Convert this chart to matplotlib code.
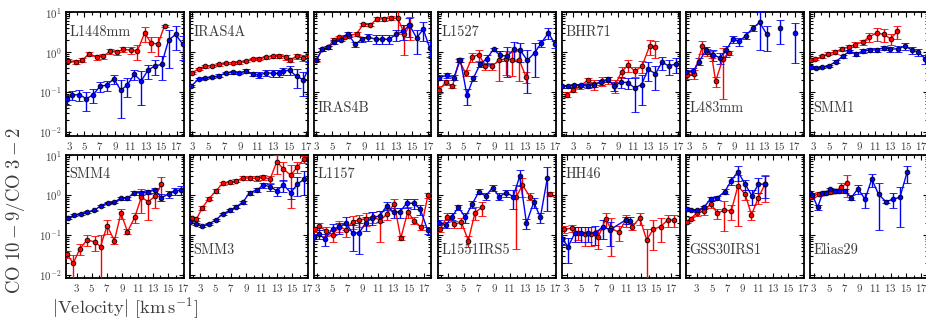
import numpy as np
import matplotlib
matplotlib.use("Agg")
import matplotlib.pyplot as plt
from matplotlib.ticker import MultipleLocator, LogLocator, NullFormatter

plt.rcParams['font.family'] = ['cmr10', 'DejaVu Serif']
plt.rcParams['mathtext.fontset'] = 'cm'
plt.rcParams['axes.formatter.use_mathtext'] = True

nan = np.nan

# ---------------- data (velocity, ratio, relative error) ----------------
l1448mm_red_v = [2.91, 3.87, 4.74, 5.65, 6.6, 7.48, 8.35, 9.22, 10.09, 11.04, 11.91, 12.83, 13.7, 14.57, 15.43]
l1448mm_red_y = [0.61, 0.56, 0.64, 0.91, 0.74, 0.79, 1.06, 1.0, 1.17, 1.12, 1.08, 2.99, 1.71, 1.58, 4.6]
l1448mm_red_e = [0.1, 0.1, 0.1, 0.1, 0.12, 0.15, 0.15, 0.15, 0.15, 0.2, 0.4, 0.4, 0.4, 0.5, 0.05]
l1448mm_blue_v = [2.7, 3.43, 4.35, 5.26, 6.17, 7.04, 7.91, 8.83, 9.74, 10.6, 11.48, 12.39, 13.26, 14.13, 15.04, 15.96, 16.87, 17.78]
l1448mm_blue_y = [0.066, 0.083, 0.086, 0.067, 0.086, 0.139, 0.147, 0.215, 0.11, 0.15, 0.277, 0.188, 0.348, 0.447, 0.49, 2.0, 2.77, 1.6]
l1448mm_blue_e = [0.3, 0.25, 0.3, 0.5, 0.4, 0.3, 0.3, 0.25, 0.8, 0.5, 0.3, 0.75, 0.4, 0.4, 0.6, 0.8, 0.6, 0.6]

iras4a_red_v = [3.0, 3.79, 4.63, 5.47, 6.35, 7.18, 7.98, 8.82, 9.61, 10.49, 11.28, 12.12, 12.96, 13.75, 14.55, 15.0, 15.85, 16.68, 17.35]
iras4a_red_y = [0.30, 0.38, 0.44, 0.455, 0.49, 0.53, 0.54, 0.55, 0.6, 0.67, 0.68, 0.75, 0.78, 0.81, 0.74, 0.64, 0.78, 0.72, 0.81]
iras4a_red_e = [0.07] * 10 + [0.08, 0.08, 0.1, 0.1, 0.12, 0.12, 0.15, 0.15, 0.15]
iras4a_blue_v = [2.92, 3.79, 4.63, 5.47, 6.35, 7.18, 7.98, 8.82, 9.61, 10.49, 11.28, 12.12, 12.96, 13.75, 14.2, 15.0, 15.85, 16.68, 17.35]
iras4a_blue_y = [0.141, 0.211, 0.224, 0.237, 0.256, 0.3, 0.31, 0.3, 0.335, 0.28, 0.27, 0.3, 0.295, 0.29, 0.335, 0.35, 0.246, 0.203, 0.38]
iras4a_blue_e = [0.06, 0.06, 0.06, 0.06, 0.07, 0.07, 0.08, 0.08, 0.1, 0.12, 0.15, 0.15, 0.18, 0.2, 0.2, 0.25, 0.5, 0.6, 0.45]

iras4b_red_v = [3.0, 3.74, 4.49, 5.19, 5.89, 6.6, 7.13, 8.04, 8.87, 9.78, 10.6, 11.47, 12.3, 13.2, 14.03, 14.78]
iras4b_red_y = [0.62, 1.17, 1.33, 2.07, 2.33, 2.46, 2.61, 2.87, 5.0, 4.9, 6.8, 6.9, 7.1, 7.1, 2.87, 4.9]
iras4b_red_e = [0.07, 0.08, 0.08, 0.08, 0.08, 0.08, 0.08, 0.1, 0.1, 0.1, 0.12, 0.12, 0.12, 0.6, 0.7, 0.6]
iras4b_blue_v = [3.0, 3.74, 4.49, 5.27, 6.1, 6.93, 7.88, 8.7, 9.53, 10.44, 11.26, 12.09, 13.0, 13.9, 14.65, 15.56, 16.39, 17.2]
iras4b_blue_y = [0.64, 1.17, 1.31, 1.78, 2.07, 2.87, 1.58, 2.11, 2.37, 2.11, 2.11, 2.11, 2.77, 3.35, 4.8, 2.28, 3.76, 1.26]
iras4b_blue_e = [0.07, 0.08, 0.08, 0.1, 0.1, 0.1, 0.15, 0.15, 0.2, 0.25, 0.25, 0.25, 0.3, 0.4, 0.5, 0.6, 0.5, 0.4]

l1527_red_v = [1.84, 2.7, 3.56, 4.42, 5.27, 6.13, 6.99, 7.85, 8.71, 9.65, 10.5, 11.37, 12.31, 13.17]
l1527_red_y = [0.114, 0.178, 0.139, 0.62, 0.30, 0.75, 0.87, 0.455, 0.447, 0.62, 0.68, 0.64, 0.62, 0.237]
l1527_red_e = [0.2, 0.15, 0.1, 0.1, 0.15, 0.25, 0.3, 0.2, 0.2, 0.7, 0.6, 0.6, 0.7, 0.3]
l1527_blue_v = [1.84, 2.79, 3.73, 4.59, 5.45, 6.3, 7.16, 8.02, 8.92, 9.78, 10.73, 11.58, 12.44, 13.34, 14.29, 15.15, 16.09, 16.95]
l1527_blue_y = [0.228, 0.26, 0.228, 0.64, 0.083, 0.224, 0.49, 0.68, 1.17, 0.83, 0.79, 1.17, 1.1, 0.62, 0.96, 1.68, 3.04, 1.6]
l1527_blue_e = [0.15, 0.15, 0.15, 0.12, 0.45, 0.15, 0.15, 0.25, 0.1, 0.3, 0.7, 0.5, 0.5, 0.85, 0.75, 0.2, 0.3, 0.2]

bhr71_red_v = [2.12, 3.0, 3.89, 4.92, 5.8, 6.79, 7.67, 8.56, 9.45, 10.33, 11.23, 12.2, 13.19, 13.99]
bhr71_red_y = [0.086, 0.11, 0.139, 0.196, 0.155, 0.185, 0.196, 0.147, 0.316, 0.48, 0.329, 0.447, 1.41, 1.33]
bhr71_red_e = [0.15, 0.12, 0.15, 0.15, 0.3, 0.25, 0.2, 0.35, 0.3, 0.35, 0.3, 0.35, 0.4, 0.45]
bhr71_blue_v = [1.53, 2.33, 3.13, 4.03, 4.92, 5.8, 6.69, 7.59, 8.47, 9.36, 10.25, 11.23, 12.12, 13.0, 13.99, 14.87, 15.76, 16.79]
bhr71_blue_y = [0.139, 0.139, 0.147, 0.147, 0.141, 0.153, 0.178, 0.207, 0.139, 0.178, 0.171, 0.126, 0.153, 0.369, 0.287, 0.56, 0.447, 0.51]
bhr71_blue_e = [0.1, 0.1, 0.1, 0.1, 0.12, 0.12, 0.15, 0.15, 0.25, 0.3, 0.3, 0.75, 0.7, 0.5, 0.6, 0.35, 0.4, 0.4]

l483mm_red_v = [2.67, 3.55, 4.69, 5.3, 5.9, 6.45, 7.42, 8.3]
l483mm_red_y = [0.26, 0.287, 1.41, 1.0, 0.87, 0.185, 0.68, 0.96]
l483mm_red_e = [0.2, 0.25, 0.35, 0.2, 0.2, 0.3, 0.9, 0.1]
l483mm_blue_v = [2.49, 3.46, 4.25, 5.13, 6.1, 6.98, 7.86, 8.74, 9.62, 10.49, 11.46, 12.34, 13.3, nan, 15.1, nan, 17.0]
l483mm_blue_y = [0.316, 0.335, 0.58, 1.1, 0.87, 0.72, 1.1, 2.15, 1.85, 2.61, 4.06, 5.6, 2.77, nan, 4.06, nan, 3.04]
l483mm_blue_e = [0.15, 0.2, 0.2, 0.2, 0.3, 0.3, 0.3, 0.2, 0.25, 0.2, 0.15, 0.8, 0.62, nan, 0.6, nan, 0.82]

smm1_red_v = [2.65, 3.22, 4.05, 4.92, 5.79, 6.67, 7.54, 8.41, 9.38, 10.25, 11.17, 12.08, 13.0, 13.87]
smm1_red_y = [0.64, 0.67, 0.78, 0.91, 1.0, 1.21, 1.33, 1.55, 1.78, 2.46, 2.99, 2.82, 2.15, 3.35]
smm1_red_e = [0.06, 0.06, 0.08, 0.08, 0.1, 0.12, 0.15, 0.15, 0.15, 0.25, 0.35, 0.35, 0.3, 0.35]
smm1_blue_v = [2.65, 3.26, 4.14, 5.0, 5.88, 6.76, 7.63, 8.5, 9.46, 10.34, 11.2, 12.08, 12.96, 13.92, 14.88, 15.75, 16.62, 17.5]
smm1_blue_y = [0.42, 0.40, 0.42, 0.455, 0.58, 0.78, 1.04, 0.91, 1.06, 1.14, 1.14, 1.28, 1.19, 1.21, 1.41, 1.14, 1.0, 0.68]
smm1_blue_e = [0.05, 0.05, 0.05, 0.06, 0.07, 0.08, 0.08, 0.1, 0.1, 0.1, 0.12, 0.12, 0.15, 0.15, 0.2, 0.2, 0.2, 0.25]

smm4_red_v = [1.71, 2.57, 3.43, 4.38, 5.37, 6.15, 7.0, 7.96, 8.82, 9.68, 10.63, 11.49, 12.4, 13.34, 14.12]
smm4_red_y = [0.0335, 0.0196, 0.0447, 0.075, 0.067, 0.051, 0.171, 0.072, 0.348, 0.121, 0.277, 0.875, 0.68, 0.94, 1.88]
smm4_red_e = [0.2, 0.6, 0.3, 0.3, 0.4, 0.95, 0.4, 0.2, 0.3, 0.15, 0.3, 0.6, 0.65, 0.5, 0.5]
smm4_blue_v = [1.84, 2.66, 3.56, 4.42, 5.33, 6.19, 7.09, 7.96, 8.82, 9.68, 10.54, 11.49, 12.35, 13.26, 14.12, 15.07, 15.93, 16.7]
smm4_blue_y = [0.26, 0.31, 0.34, 0.37, 0.41, 0.54, 0.64, 0.67, 0.83, 0.83, 1.14, 1.14, 1.19, 1.33, 0.86, 1.06, 1.26, 1.33]
smm4_blue_e = [0.05, 0.05, 0.05, 0.05, 0.05, 0.06, 0.06, 0.06, 0.08, 0.08, 0.1, 0.1, 0.12, 0.15, 0.2, 0.2, 0.2, 0.25]

smm3_red_v = [1.91, 2.48, 3.22, 4.13, 5.04, 5.91, 6.83, 7.7, 8.57, 9.52, 10.39, 11.26, 12.13, 13.0, 13.87, 14.83, 15.7, 16.57]
smm3_red_y = [0.26, 0.246, 0.47, 0.81, 1.26, 1.96, 2.07, 2.28, 2.66, 2.66, 2.61, 2.77, 2.5, 6.8, 4.47, 3.1, 5.1, 7.8]
smm3_red_e = [0.1, 0.1, 0.1, 0.1, 0.1, 0.08, 0.08, 0.08, 0.1, 0.12, 0.12, 0.15, 0.2, 0.5, 0.5, 0.85, 0.3, 0.2]
smm3_blue_v = [1.7, 2.48, 3.22, 4.09, 5.04, 5.91, 6.83, 7.7, 8.57, 9.43, 10.39, 11.26, 12.13, 13.0, 13.87, 14.83, 15.7, 16.57]
smm3_blue_y = [0.207, 0.188, 0.168, 0.188, 0.237, 0.335, 0.41, 0.51, 0.66, 1.14, 1.33, 1.78, 1.61, 1.28, 1.78, 1.14, 1.88, 2.46]
smm3_blue_e = [0.05, 0.05, 0.05, 0.05, 0.05, 0.06, 0.06, 0.07, 0.08, 0.1, 0.12, 0.15, 0.2, 0.25, 0.35, 0.3, 0.5, 0.6]

l1157_red_v = [2.75, 3.27, 4.14, 5.0, 5.87, 6.73, 7.64, 8.51, 9.46, 10.33, 11.28, 12.15, 13.1, 13.97, 14.88, 15.71, 16.66, 17.53]
l1157_red_y = [0.139, 0.168, 0.126, 0.1, 0.168, 0.133, 0.215, 0.237, 0.256, 0.287, 0.228, 0.335, 0.6, 0.083, 0.38, 0.228, 0.155, 0.98]
l1157_red_e = [0.15, 0.2, 0.25, 0.35, 0.3, 0.35, 0.35, 0.35, 0.35, 0.3, 0.7, 0.3, 0.35, 0.1, 0.3, 0.2, 0.15, 0.15]
l1157_blue_v = [2.62, 3.18, 4.05, 5.0, 5.91, 6.73, 7.64, 8.51, 9.38, 10.25, 11.2, 12.15, 13.02, 13.8, 14.75, 15.66, 16.53, 17.48]
l1157_blue_y = [0.087, 0.104, 0.079, 0.141, 0.155, 0.203, 0.11, 0.114, 0.203, 0.271, 0.30, 0.54, 0.37, 0.37, 0.62, 0.62, 0.44, 0.133]
l1157_blue_e = [0.2, 0.25, 0.35, 0.3, 0.3, 0.35, 0.65, 0.7, 0.4, 0.35, 0.3, 0.2, 0.3, 0.3, 0.25, 0.3, 0.3, 0.2]

l1551_red_v = [1.91, 2.87, 3.74, 4.7, 5.61, 6.48, 7.35, nan, 11.91, 12.7, 13.65, nan, 16.35]
l1551_red_y = [0.139, 0.287, 0.185, 0.207, 0.072, 0.36, 0.49, nan, 0.91, 1.78, 0.91, nan, 1.06]
l1551_red_e = [0.15, 0.2, 0.2, 0.3, 0.3, 0.35, 0.4, nan, 0.95, 0.5, 0.2, nan, 0.1]
l1551_blue_v = [1.83, 2.7, 3.48, 4.3, 5.22, 6.09, 7.0, 7.87, 8.78, 9.65, 10.6, 11.48, 12.35, 13.22, 14.17, 15.04, 15.96]
l1551_blue_y = [0.203, 0.178, 0.287, 0.49, 0.277, 0.58, 1.21, 0.94, 1.52, 0.91, 1.14, 0.91, 2.99, 0.196, 0.66, 0.277, 2.71]
l1551_blue_e = [0.15, 0.15, 0.2, 0.15, 0.3, 0.2, 0.15, 0.2, 0.15, 0.2, 0.2, 0.5, 0.45, 0.3, 0.3, 0.3, 0.85]

hh46_red_v = [2.68, 3.67, 4.47, 5.44, 6.2, 7.21, 8.2, 8.9, 9.97, 10.9, 11.8, 12.77, 13.7, 14.6, 15.57, 16.55, 17.35]
hh46_red_y = [0.139, 0.147, 0.114, 0.106, 0.106, 0.087, 0.246, 0.147, 0.117, 0.237, 0.162, 0.266, 0.075, 0.139, 0.162, 0.237, 0.237]
hh46_red_e = [0.2, 0.2, 0.35, 0.5, 0.5, 0.5, 0.4, 0.8, 0.4, 0.35, 0.2, 0.35, 0.9, 0.7, 0.6, 0.35, 0.35]
hh46_blue_v = [2.41, 3.21, 4.1, 4.9, 5.88, 6.77, 7.88, 8.77, 10.9, 11.44]
hh46_blue_y = [0.078, 0.051, 0.114, 0.11, 0.11, 0.11, 0.162, 0.133, 0.237, 0.228]
hh46_blue_e = [0.3, 0.6, 0.4, 0.4, 0.4, 0.5, 0.5, 0.6, 0.2, 0.2]

gss30_red_v = [1.65, 2.17, 3.04, 3.91, 4.83, 5.7, 6.57, 7.52, 8.39, 9.35, 10.17, 11.09, 11.96]
gss30_red_y = [0.215, 0.256, 0.36, 0.40, 0.60, 0.348, 0.42, 0.40, 1.68, 1.04, 0.316, 0.86, 1.88]
gss30_red_e = [0.1, 0.1, 0.15, 0.2, 0.2, 0.3, 0.7, 0.4, 0.9, 0.3, 0.25, 0.3, 0.65]
gss30_blue_v = [1.65, 2.17, 3.04, 3.91, 4.83, 5.7, 6.65, 7.52, 8.39, 9.35, 10.22, 11.09, 11.96]
gss30_blue_y = [0.44, 0.42, 0.41, 0.49, 0.81, 0.86, 1.21, 2.28, 3.83, 1.85, 0.96, 1.85, 1.88]
gss30_blue_e = [0.07, 0.07, 0.08, 0.1, 0.12, 0.12, 0.15, 0.2, 0.4, 0.3, 0.4, 0.4, 0.55]

elias29_red_v = [2.65, 3.66, 4.4, 5.18, 5.88, 6.58, 7.37]
elias29_red_y = [0.91, 1.06, 1.10, 1.19, 1.28, 1.55, 2.03]
elias29_red_e = [0.1, 0.1, 0.08, 0.1, 0.1, 0.25, 0.55]
elias29_blue_v = [2.48, 2.83, 3.52, 4.14, 4.66, 5.18, 5.75, 6.28, 7.06, 7.89, 8.76, 9.68, 10.55, 11.43, 12.39, 13.31, 14.22, 15.14]
elias29_blue_y = [1.14, 1.0, 0.49, 1.10, 1.14, 1.39, 1.28, 1.28, 1.26, 0.86, 1.44, 0.78, 2.5, 1.04, 0.68, 0.78, 0.875, 3.69]
elias29_blue_e = [0.1, 0.1, 0.12, 0.08, 0.08, 0.1, 0.1, 0.1, 0.1, 0.15, 0.25, 0.4, 0.35, 0.87, 0.1, 0.4, 0.82, 0.45]

source_names = ["L1448mm", "IRAS4A", "IRAS4B", "L1527", "BHR71", "L483mm", "SMM1",
                "SMM4", "SMM3", "L1157", "L1551IRS5", "HH46", "GSS30IRS1", "Elias29"]
x_ticks = [3, 5, 7, 9, 11, 13, 15, 17]

panels = [
    (l1448mm_red_v, l1448mm_red_y, l1448mm_red_e, l1448mm_blue_v, l1448mm_blue_y, l1448mm_blue_e),
    (iras4a_red_v, iras4a_red_y, iras4a_red_e, iras4a_blue_v, iras4a_blue_y, iras4a_blue_e),
    (iras4b_red_v, iras4b_red_y, iras4b_red_e, iras4b_blue_v, iras4b_blue_y, iras4b_blue_e),
    (l1527_red_v, l1527_red_y, l1527_red_e, l1527_blue_v, l1527_blue_y, l1527_blue_e),
    (bhr71_red_v, bhr71_red_y, bhr71_red_e, bhr71_blue_v, bhr71_blue_y, bhr71_blue_e),
    (l483mm_red_v, l483mm_red_y, l483mm_red_e, l483mm_blue_v, l483mm_blue_y, l483mm_blue_e),
    (smm1_red_v, smm1_red_y, smm1_red_e, smm1_blue_v, smm1_blue_y, smm1_blue_e),
    (smm4_red_v, smm4_red_y, smm4_red_e, smm4_blue_v, smm4_blue_y, smm4_blue_e),
    (smm3_red_v, smm3_red_y, smm3_red_e, smm3_blue_v, smm3_blue_y, smm3_blue_e),
    (l1157_red_v, l1157_red_y, l1157_red_e, l1157_blue_v, l1157_blue_y, l1157_blue_e),
    (l1551_red_v, l1551_red_y, l1551_red_e, l1551_blue_v, l1551_blue_y, l1551_blue_e),
    (hh46_red_v, hh46_red_y, hh46_red_e, hh46_blue_v, hh46_blue_y, hh46_blue_e),
    (gss30_red_v, gss30_red_y, gss30_red_e, gss30_blue_v, gss30_blue_y, gss30_blue_e),
    (elias29_red_v, elias29_red_y, elias29_red_e, elias29_blue_v, elias29_blue_y, elias29_blue_e),
]

# ---------------- layout ----------------
xlims = [(2.57, 17.9), (2.7, 17.2), (2.67, 17.42), (1.63, 17.02), (1.45, 17.2), (2.45, 18.2), (2.48, 17.8),
         (1.58, 17.02), (1.6, 17.02), (2.53, 18.0), (1.6, 17.02), (2.33, 18.1), (1.52, 17.02), (2.48, 17.8)]
label_top = [True, True, False, True, True, False, False,
             True, False, True, False, True, False, False]

W, H = 926, 322
fig = plt.figure(figsize=(W / 100, H / 100), dpi=100)
TXT = '#3c3c3c'

rows = [(12.3, 136.0, (0.0078, 10.0)), (155.0, 277.7, (0.0085, 10.0))]
for i, (name, data) in enumerate(zip(source_names, panels)):
    r, c = divmod(i, 7)
    top, bot, ylim = rows[r]
    left = 65.7 + 124.0 * c
    ax = fig.add_axes([left / W, (H - bot) / H, 117.8 / W, (bot - top) / H])
    rv, ry, re, bv, by, be = [np.array(a, dtype=float) for a in data]
    for v, y, e, col in ((rv, ry, re, 'red'), (bv, by, be, 'blue')):
        ax.errorbar(v, y, yerr=e * y, color=col, lw=1.0, elinewidth=1.0, capsize=2.8,
                    capthick=1.0, marker='o', ms=3.4, mfc=col, mec='black', mew=0.6, zorder=3)
    ax.set_yscale('log')
    ax.set_ylim(*ylim)
    ax.set_xlim(*xlims[i])
    ax.set_xticks(x_ticks)
    ax.xaxis.set_minor_locator(MultipleLocator(1))
    ax.yaxis.set_major_locator(LogLocator(base=10, numticks=10))
    ax.yaxis.set_minor_locator(LogLocator(base=10, subs=np.arange(2, 10), numticks=10))
    ax.yaxis.set_minor_formatter(NullFormatter())
    ax.tick_params(which='both', direction='in', top=True, right=True, colors='black',
                   labelcolor=TXT, labelsize=7.8, width=0.8)
    ax.tick_params(which='major', length=3.5, pad=3)
    ax.tick_params(which='minor', length=2)
    if c != 0:
        ax.tick_params(axis='y', labelleft=False)
    for s in ax.spines.values():
        s.set_linewidth(1.3)
    ty = 0.84 if label_top[i] else 0.225
    ax.text(0.03, ty, name, transform=ax.transAxes, fontsize=10.3, color=TXT, va='center', ha='left')

fig.text(16 / W, 1 - 211 / H, r'$\mathrm{CO}\ 10-9/\mathrm{CO}\ 3-2$', rotation=90, fontsize=13.5,
         color=TXT, ha='center', va='center')
fig.text(125 / W, 1 - 308 / H, r'$|\mathrm{Velocity}|\ [\mathrm{km\,s^{-1}}]$', fontsize=13.3,
         color=TXT, ha='center', va='center')

fig.savefig('out.png', dpi=100)
